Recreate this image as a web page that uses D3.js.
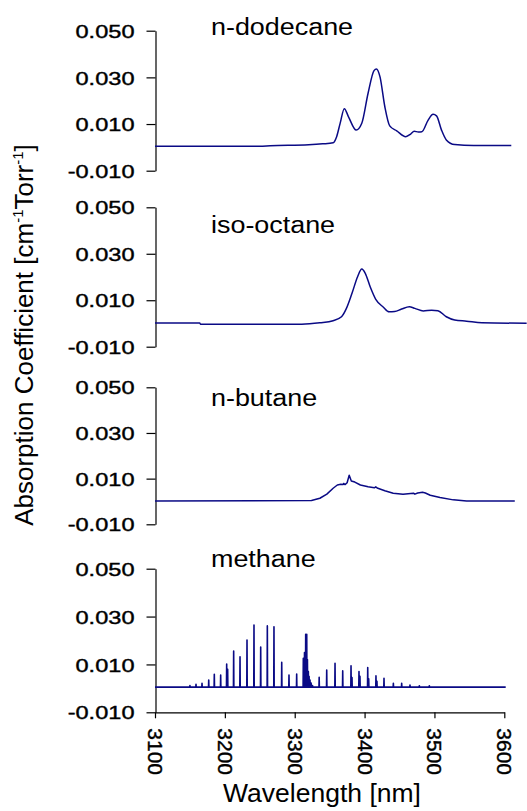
<!DOCTYPE html>
<html><head><meta charset="utf-8">
<script src="https://cdn.jsdelivr.net/npm/d3@7"></script>
<style>html,body{margin:0;padding:0;background:#fff;} svg{display:block;}</style>
</head><body><svg id="chart" width="527" height="811"></svg>
<script>
// ---------------- data ----------------
const compounds = ["n-dodecane", "iso-octane", "n-butane", "methane"];
const wavelengthTicks = [3100, 3200, 3300, 3400, 3500, 3600];
const absorptionTicks = [-0.010, 0.010, 0.030, 0.050];

const dodecaneWavelength = [3100, 3250, 3265, 3320, 3340, 3355, 3360, 3365, 3371, 3377, 3388, 3396, 3405, 3413.5, 3417, 3422, 3429, 3436, 3446, 3459, 3466, 3471, 3477, 3482, 3491, 3498, 3503, 3510, 3517, 3529, 3556, 3610];
const dodecaneAbsorption = [0.0005, 0.0005, 0.0007, 0.0011, 0.0015, 0.0020, 0.0046, 0.0103, 0.0166, 0.0131, 0.0074, 0.0103, 0.0232, 0.0329, 0.0336, 0.0303, 0.0174, 0.0092, 0.0071, 0.0046, 0.0057, 0.0069, 0.0066, 0.0067, 0.0117, 0.0142, 0.0135, 0.0075, 0.0032, 0.0012, 0.0008, 0.0008];

const isooctaneWavelength = [3100, 3164, 3165, 3310, 3336, 3355, 3367, 3374, 3382, 3390, 3396, 3401, 3408, 3416, 3427, 3435, 3443, 3453, 3464, 3472, 3484, 3496, 3505, 3517, 3529, 3546, 3568, 3632];
const isooctaneAbsorption = [0.0002, 0.0002, -0.0003, -0.0003, 0.0003, 0.0012, 0.0029, 0.0065, 0.0130, 0.0201, 0.0234, 0.0216, 0.0158, 0.0104, 0.0070, 0.0050, 0.0051, 0.0062, 0.0072, 0.0065, 0.0054, 0.0057, 0.0055, 0.0029, 0.0015, 0.0010, 0.0003, 0.0001];

const butaneWavelength = [3100, 3324, 3336, 3346, 3355, 3361, 3366, 3369, 3370, 3372, 3375, 3378, 3381, 3386, 3394, 3405, 3414, 3416, 3418, 3429, 3441, 3455, 3466, 3470, 3472, 3476, 3483, 3487, 3494, 3508, 3527, 3546, 3615];
const butaneAbsorption = [0.0002, 0.0004, 0.0014, 0.0032, 0.0058, 0.0072, 0.0075, 0.0074, 0.0079, 0.0074, 0.0082, 0.0115, 0.0090, 0.0085, 0.0072, 0.0064, 0.0060, 0.0064, 0.0059, 0.0047, 0.0036, 0.0032, 0.0035, 0.0036, 0.0032, 0.0037, 0.0040, 0.0037, 0.0027, 0.0017, 0.0007, 0.0002, 0.0002];

// methane: stick spectrum (line position, peak absorption)
const methaneLineWavelength = [3150, 3158.7, 3167.3, 3176.9, 3184.9, 3194, 3202.6, 3204, 3212.6, 3221.7, 3231.7, 3241.7, 3251.3, 3260.8, 3270.3, 3281.4, 3291.8, 3302.8, 3312.3, 3314, 3315.7, 3316.5, 3317.2, 3318.2, 3319.5, 3320.6, 3321.9, 3323.5, 3325.5, 3335, 3345.8, 3357.7, 3368.7, 3380.6, 3382, 3392, 3393.4, 3404.5, 3405.9, 3416.3, 3417.7, 3427.8, 3441.2, 3453.1, 3465, 3478.4, 3492.7];
const methaneLineAbsorption = [0.0012, 0.0017, 0.0021, 0.0035, 0.0059, 0.0056, 0.0102, 0.0080, 0.0156, 0.0132, 0.0202, 0.0265, 0.0173, 0.0261, 0.0257, 0.0109, 0.0056, 0.0060, 0.0126, 0.0150, 0.0226, 0.0205, 0.0226, 0.0120, 0.0070, 0.0050, 0.0035, 0.0022, 0.0012, 0.0046, 0.0077, 0.0105, 0.0073, 0.0094, 0.0045, 0.0070, 0.0050, 0.0087, 0.0040, 0.0052, 0.0030, 0.0042, 0.0021, 0.0021, 0.0014, 0.0011, 0.0011];
const methaneBaseline = 0.0005;
const methaneRange = [3100, 3602];

// ---------------- layout ----------------
const svg = d3.select("#chart");
const FONT = "'Liberation Sans', Arial, Helvetica, sans-serif";
const lineColor = "#0a0a85";

const x = d3.scaleLinear().domain([3100, 3600]).range([155, 504.3]);
const panels = [
  {top: 30.7, bottom: 170.7, titleY: 35},
  {top: 207.3, bottom: 346.7, titleY: 233.3},
  {top: 387.3, bottom: 524.3, titleY: 405.7},
  {top: 568.7, bottom: 712.3, titleY: 567.3}
];
const axisX = 155.5;

// methane stick path points built from data
const methanePoints = [[methaneRange[0], methaneBaseline]];
methaneLineWavelength.forEach((w, i) => {
  methanePoints.push([w - 0.3, methaneBaseline], [w, methaneLineAbsorption[i]], [w + 0.3, methaneBaseline]);
});
methanePoints.push([methaneRange[1], methaneBaseline]);

const seriesList = [
  {pts: d3.zip(dodecaneWavelength, dodecaneAbsorption), curve: d3.curveMonotoneX, width: 1.5},
  {pts: d3.zip(isooctaneWavelength, isooctaneAbsorption), curve: d3.curveMonotoneX, width: 1.5},
  {pts: d3.zip(butaneWavelength, butaneAbsorption), curve: d3.curveLinear, width: 1.5},
  {pts: methanePoints, curve: d3.curveLinear, width: 1.6}
];

panels.forEach((p, i) => {
  const y = d3.scaleLinear().domain([-0.010, 0.050]).range([p.bottom, p.top]);
  const g = svg.append("g");

  // y axis
  const ya = g.append("g")
    .attr("transform", `translate(${axisX},0)`)
    .call(d3.axisLeft(y).tickValues(absorptionTicks).tickSize(9).tickSizeOuter(0)
      .tickFormat(d => d.toFixed(3)));
  ya.select(".domain").attr("stroke", "#000").attr("stroke-width", 1.2);
  ya.selectAll(".tick line").attr("stroke", "#000").attr("stroke-width", 1.2);
  ya.selectAll(".tick text")
    .attr("x", 0)
    .attr("dy", "0.36em")
    .attr("transform", "translate(-21,0) scale(1.275,1)")
    .attr("fill", "#000")
    .attr("stroke", "#000").attr("stroke-width", 0.4)
    .style("font-family", FONT).style("font-size", "18.5px");

  // series
  const line = d3.line().x(d => x(d[0])).y(d => y(d[1])).curve(seriesList[i].curve);
  g.append("path")
    .attr("d", line(seriesList[i].pts))
    .attr("fill", "none")
    .attr("stroke", lineColor)
    .attr("stroke-width", seriesList[i].width)
    .attr("stroke-linejoin", "round");

  // title
  g.append("text")
    .attr("transform", `translate(211,${p.titleY}) scale(1.17,1)`)
    .style("font-family", FONT).style("font-size", "23px")
    .attr("fill", "#000")
    .text(compounds[i]);

  // x axis on the bottom panel
  if (i === panels.length - 1) {
    const xa = g.append("g")
      .attr("transform", `translate(0,${p.bottom})`)
      .call(d3.axisBottom(x).tickValues(wavelengthTicks).tickSize(6).tickSizeOuter(0).tickFormat(d3.format("d")));
    xa.select(".domain").attr("stroke", "#000").attr("stroke-width", 1.2);
    xa.selectAll(".tick line").attr("stroke", "#000").attr("stroke-width", 1.2);
    xa.selectAll(".tick text")
      .attr("y", 0).attr("x", 16).attr("dy", "0.36em")
      .attr("transform", "rotate(90)")
      .style("text-anchor", "start")
      .attr("fill", "#000")
      .attr("stroke", "#000").attr("stroke-width", 0.4)
      .style("font-family", FONT).style("font-size", "21px");
  }
});

// axis titles
svg.append("text")
  .attr("x", 322).attr("y", 802)
  .attr("text-anchor", "middle")
  .style("font-family", FONT).style("font-size", "26.5px")
  .text("Wavelength [nm]");

const yl = svg.append("text")
  .attr("transform", "translate(33,335) rotate(-90)")
  .attr("text-anchor", "middle")
  .style("font-family", FONT).style("font-size", "26px");
yl.append("tspan").text("Absorption Coefficient [cm");
yl.append("tspan").attr("dy", -10).style("font-size", "15px").text("-1");
yl.append("tspan").attr("dy", 10).text("Torr");
yl.append("tspan").attr("dy", -10).style("font-size", "15px").text("-1");
yl.append("tspan").attr("dy", 10).text("]");
</script>
</body></html>
